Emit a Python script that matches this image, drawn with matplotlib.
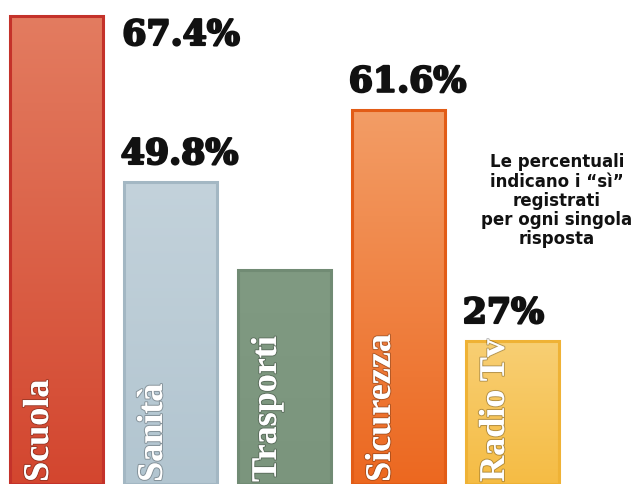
import numpy as np
import matplotlib
matplotlib.use("Agg")
import matplotlib.pyplot as plt
from matplotlib.colors import LinearSegmentedColormap
import matplotlib.patheffects as pe

# ---- data ----
categories = ["Scuola", "Sanità", "Trasporti", "Sicurezza", "Radio Tv"]
value_labels = ["67.4%", "49.8%", "", "61.6%", "27%"]
# bar heights as drawn in the graphic (the graphic is not drawn to scale)
bar_heights = [67.4, 43.5, 30.8, 53.9, 20.6]
note = "Le percentuali\nindicano i “sì”\nregistrati\nper ogni singola\nrisposta"

top_colors = ["#e37c60", "#c3d2db", "#809a82", "#f39d66", "#f8cf74"]
bottom_colors = ["#d3462f", "#b2c5d0", "#7b957d", "#ec6820", "#f5bc44"]
edge_colors = ["#c4322a", "#a3b7c3", "#718b74", "#e25c16", "#efb235"]

fig = plt.figure(figsize=(6.42, 4.84), dpi=100)
ax = fig.add_axes([0, 0, 1, 1])
ax.axis("off")

x = np.arange(len(categories))
width = 0.82
bars = ax.bar(x, bar_heights, width=width, facecolor="none",
              edgecolor=edge_colors, linewidth=2.2, zorder=3)

grad = np.linspace(0, 1, 256).reshape(-1, 1)
for b, top, bot in zip(bars, top_colors, bottom_colors):
    cmap = LinearSegmentedColormap.from_list("g", [bot, top])
    x0, y0 = b.get_x(), b.get_y()
    im = ax.imshow(grad, cmap=cmap, aspect="auto", origin="lower",
                   extent=[x0, x0 + b.get_width(), y0, y0 + b.get_height()],
                   zorder=2)
    im.set_clip_path(b)

ax.set_xlim(-0.496, 5.136)
ax.set_ylim(0, 69.7)

# category names inside bars
for xi, name in zip(x, categories):
    ax.text(xi - 0.15, 0.3, name, rotation=90, ha="center", va="bottom",
            color="white", fontsize=26, fontweight="bold",
            family="Liberation Serif", zorder=4,
            path_effects=[pe.withStroke(linewidth=1.5, foreground="#00000040")])

# value labels
val_font = dict(fontsize=25, fontweight="bold", family="DejaVu Serif",
                color="#111111", zorder=5,
                path_effects=[pe.withStroke(linewidth=1.6, foreground="#111111")])
for i, (b, lab) in enumerate(zip(bars, value_labels)):
    if not lab:
        continue
    if i == 0:
        ax.annotate(lab, xy=(b.get_x() + b.get_width(), b.get_height()),
                    xytext=(19, -2), textcoords="offset pixels",
                    ha="left", va="top", **val_font)
    else:
        ax.annotate(lab, xy=(b.get_x(), b.get_height()),
                    xytext=(-3, 11), textcoords="offset pixels",
                    ha="left", va="bottom", **val_font)

ax.text(4.39, 47.6, note, ha="center", va="top", fontsize=12,
        fontweight="bold", family="DejaVu Sans", color="#111111",
        linespacing=1.08)

fig.savefig("out.png", dpi=100, facecolor="white")
